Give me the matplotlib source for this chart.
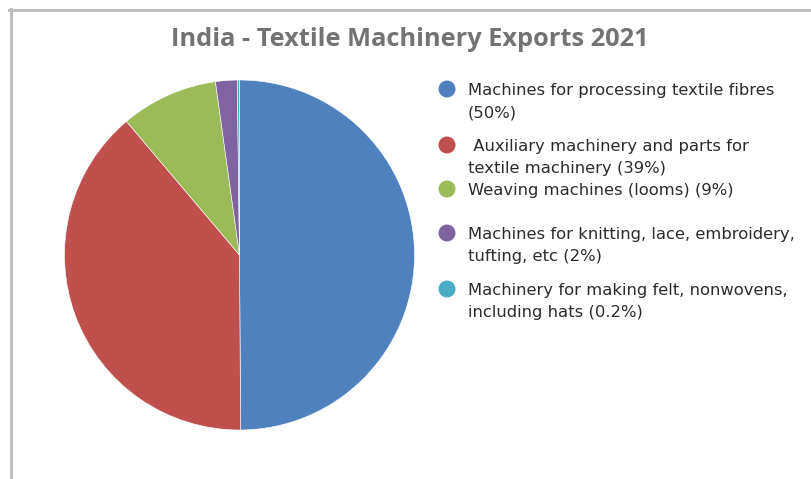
import matplotlib.pyplot as plt
from matplotlib.lines import Line2D

# export shares by machinery group, percent
labels = [
    "Machines for processing textile fibres\n(50%)",
    " Auxiliary machinery and parts for\ntextile machinery (39%)",
    "Weaving machines (looms) (9%)",
    "Machines for knitting, lace, embroidery,\ntufting, etc (2%)",
    "Machinery for making felt, nonwovens,\nincluding hats (0.2%)",
]
shares = [50, 39, 9, 2, 0.2]
colors = ["#4F81BD", "#C0504D", "#9BBB59", "#8064A2", "#4BACC6"]

W, H = 811, 479
fig = plt.figure(figsize=(W / 100, H / 100), dpi=100)

# pie, centre (239.5, 255) px, radius 175 px
cx, cy, r = 239.5, 255, 175
ax = fig.add_axes([(cx - r) / W, (H - cy - r) / H, 2 * r / W, 2 * r / H])
ax.pie(
    shares,
    colors=colors,
    startangle=90,
    counterclock=False,
    radius=1,
    wedgeprops=dict(edgecolor="white", linewidth=0.4),
)
ax.set_xlim(-1, 1)
ax.set_ylim(-1, 1)
ax.set_aspect("equal")
ax.axis("off")

fig.text(410 / W, 1 - 40 / H, "India - Textile Machinery Exports 2021",
         ha="center", va="center", fontsize=18.3, fontweight="bold",
         color="#737373", family="Open Sans")

# legend drawn in pixel coordinates
lg = fig.add_axes([0, 0, 1, 1], zorder=-1)
lg.set_xlim(0, W)
lg.set_ylim(H, 0)
lg.axis("off")
rows = [89, 145, 189, 233, 289]
for y, lab, c in zip(rows, labels, colors):
    lg.scatter([447], [y], s=150, color=c, edgecolors="none")
    for i, line in enumerate(lab.split("\n")):
        lg.text(468, y + i * 22.5, line, ha="left", va="center_baseline",
                fontsize=11.8, color="#2b2b2b", family="DejaVu Sans")

# chart frame
fig.add_artist(Line2D([9 / W, 1], [1 - 9.5 / H, 1 - 9.5 / H], color="#BFBFBF", linewidth=2.2))
fig.add_artist(Line2D([10.5 / W, 10.5 / W], [1 - 8.5 / H, 0], color="#BFBFBF", linewidth=2.2))

fig.savefig("out.png", dpi=100)
